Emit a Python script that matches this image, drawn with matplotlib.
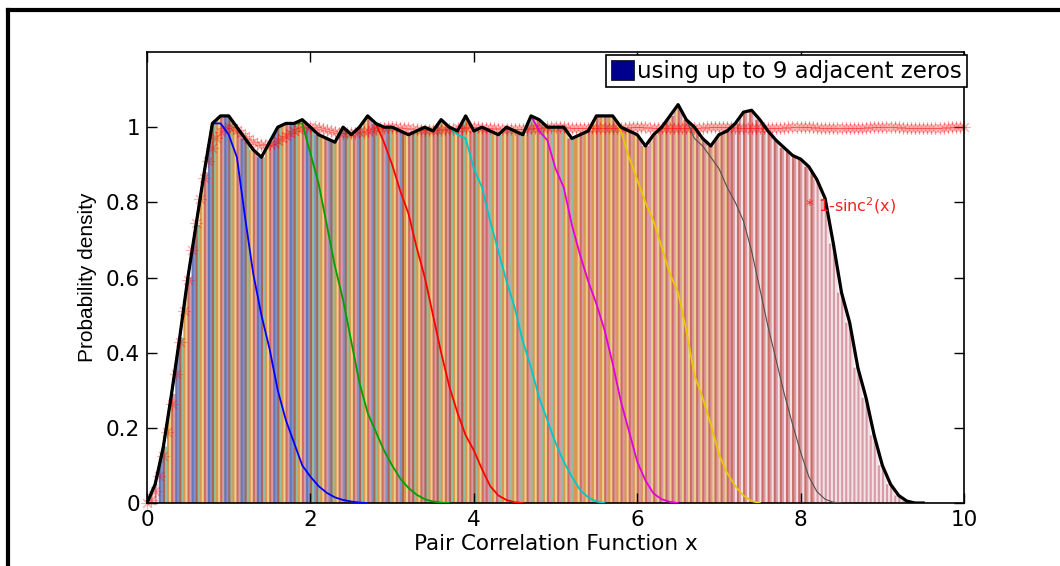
import numpy as np
import matplotlib
matplotlib.use('Agg')
import matplotlib.pyplot as plt
from matplotlib.patches import Patch
from matplotlib.lines import Line2D

plt.rcParams['font.family'] = ['DejaVu Sans']
plt.rcParams['mathtext.fontset'] = 'dejavusans'
plt.rcParams['mathtext.default'] = 'regular'

# histogram grid (bin centres, step 0.1)
x = np.round(np.arange(0, 10.05, 0.1), 1)

# total density (thick black outline)
total = [0.0, 0.05, 0.15, 0.29, 0.44, 0.60, 0.74, 0.88, 1.01, 1.03,
         1.03, 1.00, 0.97, 0.94, 0.92, 0.96, 1.00, 1.01, 1.01, 1.02,
         1.00, 0.98, 0.97, 0.96, 1.00, 0.98, 1.00, 1.03, 1.01, 1.00,
         1.00, 0.99, 0.98, 0.99, 1.00, 0.99, 1.02, 1.00, 0.99, 1.03,
         0.99, 1.00, 0.99, 0.98, 1.00, 0.99, 0.98, 1.03, 1.02, 1.00,
         1.00, 1.00, 0.97, 0.98, 0.99, 1.03, 1.03, 1.03, 1.00, 0.99,
         0.98, 0.95, 0.98, 1.00, 1.03, 1.06, 1.02, 1.00, 0.97, 0.95,
         0.98, 0.99, 1.01, 1.04, 1.045, 1.02, 0.99, 0.965, 0.945, 0.925,
         0.915, 0.895, 0.86, 0.81, 0.69, 0.56, 0.48, 0.36, 0.28, 0.18,
         0.10, 0.05, 0.02, 0.005, 0.0, 0.0, 0.0, 0.0, 0.0, 0.0, 0.0]

# falling edges of the cumulative curves (using 1..7 adjacent zeros)
s1_start, s1_tail = 0.9, [1.01, 0.98, 0.92, 0.76, 0.61, 0.50, 0.41, 0.30, 0.22, 0.16,
                          0.10, 0.07, 0.045, 0.027, 0.015, 0.008, 0.004, 0.001, 0.0]
s2_start, s2_tail = 1.9, [1.01, 0.93, 0.85, 0.74, 0.63, 0.54, 0.43, 0.32, 0.24, 0.19,
                          0.14, 0.10, 0.065, 0.04, 0.022, 0.01, 0.004, 0.001, 0.0]
s3_start, s3_tail = 2.8, [1.01, 0.96, 0.90, 0.83, 0.77, 0.68, 0.60, 0.50, 0.40, 0.31,
                          0.24, 0.18, 0.14, 0.09, 0.045, 0.02, 0.008, 0.002, 0.0]
s4_start, s4_tail = 3.8, [0.98, 0.97, 0.89, 0.84, 0.75, 0.67, 0.59, 0.52, 0.43, 0.36,
                          0.28, 0.22, 0.16, 0.11, 0.07, 0.035, 0.015, 0.004, 0.0]
s5_start, s5_tail = 4.8, [0.99, 0.965, 0.89, 0.84, 0.74, 0.66, 0.59, 0.53, 0.46, 0.37,
                          0.27, 0.19, 0.11, 0.06, 0.025, 0.01, 0.003, 0.0]
s6_start, s6_tail = 5.8, [0.99, 0.92, 0.86, 0.80, 0.75, 0.68, 0.61, 0.56, 0.46, 0.34,
                          0.28, 0.21, 0.13, 0.08, 0.045, 0.02, 0.005, 0.0]
s7_start, s7_tail = 6.7, [0.97, 0.95, 0.92, 0.89, 0.84, 0.80, 0.75, 0.67, 0.57, 0.47,
                          0.38, 0.29, 0.21, 0.135, 0.07, 0.03, 0.01, 0.002, 0.0]

# 1 - sinc^2(x) sampled every 0.05
sinc_y = [0.0, .0082, .0325, .0719, .1248, .1894, .2632, .3434, .4272, .5119, .5947,
          .6732, .7454, .8096, .8647, .9099, .9453, .9711, .9881, .9973, 1.0,
          .9978, .9920, .9842, .9757, .9676, .9608, .9559, .9532, .9530, .9550,
          .9589, .9642, .9705, .9771, .9835, .9892, .9939, .9973, .9993, 1.0,
          .9994, .9978, .9955, .9928, .9900, .9875, .9854, .9841, .9835, .9838,
          .9848, .9864, .9885, .9909, .9933, .9955, .9974, .9988, .9997, 1.0,
          1.0, .999, .998, .997, .995, .994, .993, .992, .992, .992,
          .992, .993, .994, .995, .996, .998, .999, .999, 1.0, 1.0,
          1.0, .999, .999, .998, .997, .996, .996, .995, .995, .995,
          .995, .996, .996, .997, .998, .998, .999, 1.0, 1.0, 1.0,
          1.0, 1.0, .999, .999, .998, .998, .997, .997, .997, .997,
          .997, .997, .997, .998, .998, .999, .999, 1.0, 1.0, 1.0,
          1.0, 1.0, .999, .999, .999, .998, .998, .998, .998, .998,
          .998, .998, .998, .999, .999, .999, 1.0, 1.0, 1.0, 1.0,
          1.0, 1.0, 1.0, .999, .999, .999, .999, .998, .998, .998,
          .998, .998, .999, .999, .999, .999, 1.0, 1.0, 1.0, 1.0,
          1.0, 1.0, 1.0, .999, .999, .999, .999, .999, .999, .999,
          .999, .999, .999, .999, .999, .999, 1.0, 1.0, 1.0, 1.0,
          1.0, 1.0, 1.0, 1.0, .999, .999, .999, .999, .999, .999,
          .999, .999, .999, .999, .999, 1.0, 1.0, 1.0, 1.0, 1.0]
sinc_x = np.arange(len(sinc_y)) * 0.05

line_colors = ['#0000ff', '#00a000', '#ff0000', '#00c8c8', '#e000e0', '#e8c800', '#505050']
bar_colors = ['#6577b8', '#7f93c6', '#ad6453', '#8fbfa3', '#dc9650', '#ebd08c', '#cc6c64', '#d89aa3']
light = '#f3e2e5'

total = np.array(total)


def build(start, tail):
    i0 = int(round(start / 0.1))
    y = np.full(len(x), np.nan)
    y[:i0] = total[:i0]
    y[i0:i0 + len(tail)] = tail
    return y


curves = [build(s, t) for s, t in [(s1_start, s1_tail), (s2_start, s2_tail), (s3_start, s3_tail),
                                   (s4_start, s4_tail), (s5_start, s5_tail), (s6_start, s6_tail),
                                   (s7_start, s7_tail)]]
allc = curves + [total]

fig = plt.figure(figsize=(10.6, 5.66), dpi=100)
ax = fig.add_axes([0.1387, 0.1113, 0.7708, 0.7968])

# striped bars under the outline, 4 thin stripes per bin
nstripe = 4
w = 0.1 / nstripe
bx, bh, bc = [], [], []
for i, xi in enumerate(x):
    if total[i] <= 0:
        continue
    active = [k for k in range(8) if not np.isnan(allc[k][i]) and allc[k][i] > 0.05]
    if not active:
        active = [7]
    cols = [bar_colors[k] for k in active]
    if len(cols) < 3:
        cols.append(light)
    for j in range(nstripe):
        bx.append(xi - 0.05 + w * (j + 0.5))
        bh.append(total[i])
        bc.append(cols[(nstripe * i + j) % len(cols)])
bars = ax.bar(bx, bh, width=w * 1.4, color=bc, linewidth=0, zorder=1)
clip = ax.fill_between(x, total, 0, color='none', linewidth=0)
for b in bars:
    b.set_clip_path(clip.get_paths()[0], ax.transData)
    b.set_snap(False)

ax.plot(sinc_x, sinc_y, linestyle='none', marker=(8, 2, 0), markersize=9,
        color='#ff0000', alpha=0.3, markeredgewidth=0.8, zorder=2, clip_on=False)

for k, c in enumerate(curves):
    lw = 0.8 if k == 6 else 1.3
    ax.plot(x, c, color=line_colors[k], linewidth=lw, zorder=3)
ax.plot(x[:96], total[:96], color='black', linewidth=2.3, zorder=4)

ax.text(8.05, 0.79, '* 1-sinc$^2$(x)', color='#ff2020', fontsize=11.5, va='center', ha='left',
        zorder=6)

ax.set_xlim(0, 10)
ax.set_ylim(0, 1.2)
ax.set_xticks([0, 2, 4, 6, 8, 10])
ax.set_yticks([0, 0.2, 0.4, 0.6, 0.8, 1])
ax.set_yticklabels(['0', '0.2', '0.4', '0.6', '0.8', '1'])
ax.tick_params(direction='in', top=True, right=True, length=7, width=1, labelsize=15.5, pad=5)
for s in ax.spines.values():
    s.set_linewidth(1.2)
ax.set_xlabel('Pair Correlation Function x', fontsize=15.5, labelpad=3)
ax.set_ylabel('Probability density', fontsize=15, labelpad=6, family='Liberation Sans')

leg = ax.legend([Patch(facecolor='#00008f', edgecolor='black', linewidth=0.5)],
                ['using up to 9 adjacent zeros'], loc='upper right', bbox_to_anchor=(1.003, 0.993),
                borderaxespad=0, fontsize=16.5, fancybox=False, framealpha=1, edgecolor='black',
                handlelength=1.0, handleheight=1.0, handletextpad=0.15, borderpad=0.2)
leg.get_frame().set_linewidth(1.2)

# outer frame (left and top edges visible)
for (xs, ys) in [([0.0075, 0.0075], [0.0, 0.983]), ([0.0075, 1.0], [0.983, 0.983])]:
    fig.add_artist(Line2D(xs, ys, color='black', linewidth=3, transform=fig.transFigure))

fig.savefig('out.png', dpi=100)
